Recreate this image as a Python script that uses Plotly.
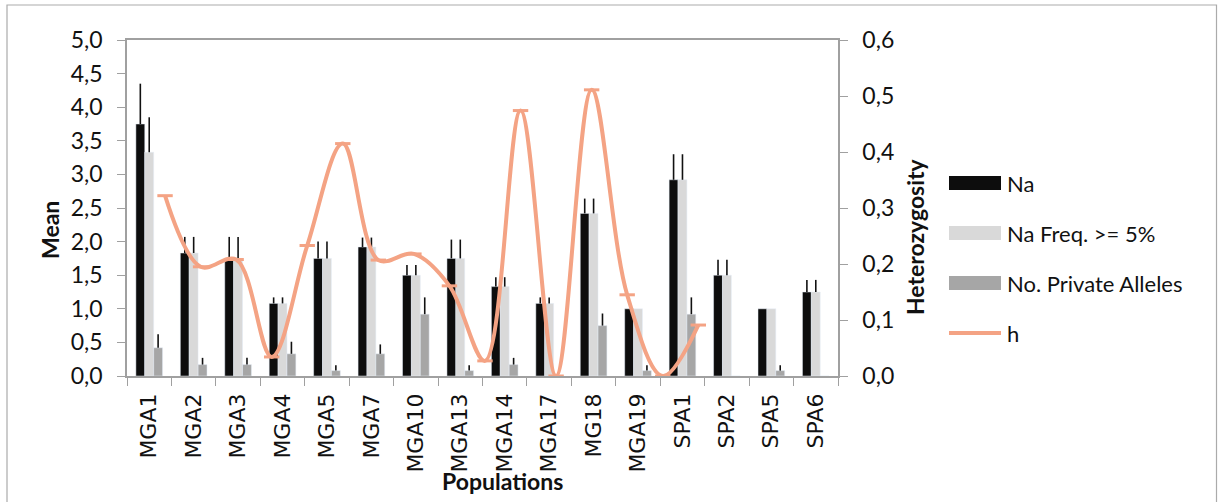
import numpy as np
import plotly.graph_objects as go

# Population labels
populations = ["MGA1", "MGA2", "MGA3", "MGA4", "MGA5", "MGA7", "MGA10", "MGA13",
               "MGA14", "MGA17", "MG18", "MGA19", "SPA1", "SPA2", "SPA5", "SPA6"]

# Mean number of alleles and its standard error
na = [3.75, 1.83, 1.75, 1.08, 1.75, 1.92, 1.50, 1.75, 1.33, 1.08, 2.42, 1.00, 2.92, 1.50, 1.00, 1.25]
na_se = [0.60, 0.24, 0.32, 0.09, 0.25, 0.14, 0.15, 0.28, 0.14, 0.09, 0.22, 0.0, 0.38, 0.23, 0.0, 0.18]

# Alleles with frequency >= 5%
na_freq = [3.33, 1.83, 1.75, 1.08, 1.75, 1.92, 1.50, 1.75, 1.33, 1.08, 2.42, 1.00, 2.92, 1.50, 1.00, 1.25]
na_freq_se = [0.52, 0.24, 0.32, 0.09, 0.25, 0.14, 0.15, 0.28, 0.14, 0.09, 0.22, 0.0, 0.38, 0.23, 0.0, 0.18]

# Private alleles
private = [0.42, 0.17, 0.17, 0.33, 0.08, 0.33, 0.92, 0.08, 0.17, 0.0, 0.75, 0.08, 0.92, 0.0, 0.08, 0.0]
private_se = [0.20, 0.10, 0.10, 0.18, 0.08, 0.14, 0.25, 0.08, 0.10, 0.0, 0.18, 0.08, 0.25, 0.0, 0.08, 0.0]

# Heterozygosity (h)
h = [0.322, 0.195, 0.208, 0.034, 0.233, 0.415, 0.207, 0.218, 0.161, 0.027,
     0.474, 0.0, 0.511, 0.145, 0.0, 0.091]

series_names = ["Na", "Na Freq. >= 5%", "No. Private Alleles", "h"]

TXT_FONT = "Lato"
CAT_FONT = "DejaVu Sans"
BAR_COLS = ["#0D0D0D", "#D9D9D9", "#A6A6A6"]
LINE_COL = "#F4A384"
AXIS_COL = "#A0A0A0"
INK = "#111111"

# plot-area geometry in pixels
W, H = 1218, 502
L, R, T, B = 127, 838, 40, 376
PW, PH = R - L, B - T


def px(xp):
    return (xp - L) / PW


def py(yp):
    return (B - yp) / PH


def up_err(vals):
    return dict(type="data", array=vals, arrayminus=[0] * len(vals), symmetric=False,
                color=INK, thickness=1.6, width=0)


fig = go.Figure()
for vals, errs, name, col in zip([na, na_freq, private], [na_se, na_freq_se, private_se],
                                 series_names[:3], BAR_COLS):
    fig.add_bar(x=populations, y=vals, name=name, marker_color=col,
                error_y=up_err(errs), showlegend=False)

h_pos = np.arange(1, len(h) + 1)
fig.add_scatter(x=h_pos, y=h, name=series_names[3], xaxis="x2", yaxis="y2",
                mode="lines+markers",
                line=dict(color=LINE_COL, width=4, shape="spline", smoothing=1.0),
                marker=dict(symbol="line-ew", size=11, line=dict(color=LINE_COL, width=3)),
                showlegend=False)

tick_font = dict(family=TXT_FONT, size=23, color=INK)
title_font = dict(family=TXT_FONT, size=23, color=INK)

annotations = [
    dict(text="<b>Populations</b>", x=px(502), y=py(481), xanchor="center", yanchor="middle",
         font=title_font),
    dict(text="<b>Mean</b>", x=px(50), y=py(230), xanchor="center", yanchor="middle",
         textangle=-90, font=title_font),
    dict(text="<b>Heterozygosity</b>", x=px(915), y=py(237), xanchor="center", yanchor="middle",
         textangle=-90, font=title_font),
]
shapes = [
    dict(type="rect", x0=px(7), x1=px(1216.5), y0=py(506), y1=py(5),
         line=dict(color="#ABABAB", width=1.2), fillcolor="rgba(0,0,0,0)", layer="below"),
]

# legend: wide swatches with labels on the right
leg_y = [183, 233, 283, 333]
for i, (name, yy) in enumerate(zip(series_names, leg_y)):
    if i < 3:
        shapes.append(dict(type="rect", x0=px(949), x1=px(1001), y0=py(yy + 7), y1=py(yy - 7),
                           line=dict(width=0), fillcolor=BAR_COLS[i]))
    else:
        shapes.append(dict(type="line", x0=px(949), x1=px(1001), y0=py(yy), y1=py(yy),
                           line=dict(color=LINE_COL, width=4)))
    annotations.append(dict(text=name, x=px(1005), y=py(yy), xanchor="left", yanchor="middle",
                            font=dict(family=TXT_FONT, size=22, color=INK)))

for a in annotations:
    a.update(xref="paper", yref="paper", showarrow=False)
for s in shapes:
    s.update(xref="paper", yref="paper")

fig.update_layout(
    width=W, height=H,
    margin=dict(l=L, r=W - R, t=T, b=H - B),
    paper_bgcolor="white", plot_bgcolor="white",
    separators=",.",
    barmode="group", bargap=0.4, bargroupgap=0.0,
    showlegend=False,
    xaxis=dict(type="category", range=[-0.5, len(populations) - 0.5],
               showline=True, linecolor=AXIS_COL, linewidth=1.5, mirror=True,
               ticks="outside", tickson="boundaries", ticklen=8, tickcolor=AXIS_COL,
               tickangle=-90, tickfont=dict(family=CAT_FONT, size=22, color=INK),
               ticklabelstandoff=7, showgrid=False, zeroline=False),
    xaxis2=dict(overlaying="x", range=[-0.07, 19.93], visible=False, showgrid=False),
    yaxis=dict(range=[0, 5], dtick=0.5, tickformat=".1f",
               showline=True, linecolor=AXIS_COL, linewidth=1.5,
               ticks="outside", ticklen=8, tickcolor=AXIS_COL, ticklabelstandoff=10,
               tickfont=tick_font, showgrid=False, zeroline=False),
    yaxis2=dict(range=[0, 0.6], dtick=0.1, tickformat=".1f", overlaying="y", side="right",
                showline=True, linecolor=AXIS_COL, linewidth=1.5,
                ticks="outside", ticklen=8, tickcolor=AXIS_COL, ticklabelstandoff=10,
                tickfont=tick_font, showgrid=False, zeroline=False),
    annotations=annotations,
    shapes=shapes,
)

fig.write_html("out.html")
